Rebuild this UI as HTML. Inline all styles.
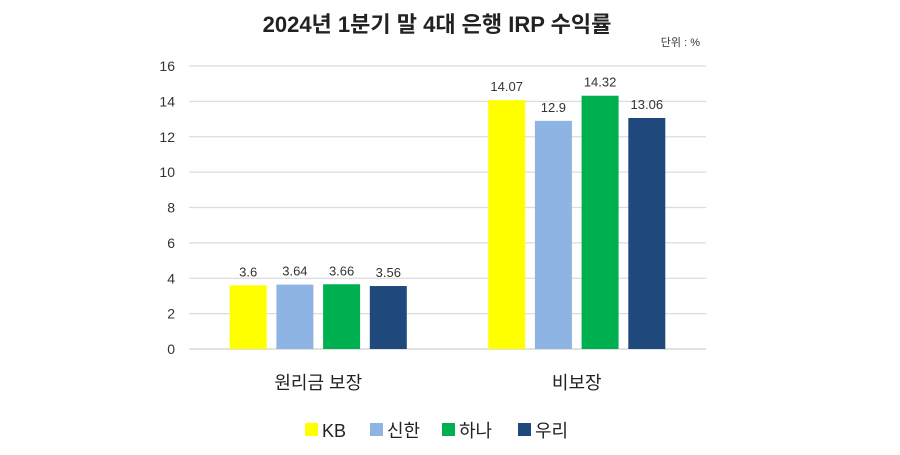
<!DOCTYPE html>
<html><head><meta charset="utf-8">
<style>
html,body{margin:0;padding:0;background:#fff;}
body{width:900px;height:450px;overflow:hidden;font-family:"Liberation Sans","Noto Sans CJK KR",sans-serif;}
</style></head>
<body>
<svg id="chart" width="900" height="450" xmlns="http://www.w3.org/2000/svg" font-family="Liberation Sans, Noto Sans CJK KR, sans-serif">
<text x="437" y="32" text-anchor="middle" font-size="22" font-weight="bold" fill="#222">2024년 1분기 말 4대 은행 IRP 수익률</text>
<text x="700" y="46" text-anchor="end" font-size="11" fill="#333">단위 : %</text>
</svg>
<script>
const categories = ["원리금 보장", "비보장"];
const seriesNames = ["KB", "신한", "하나", "우리"];
const kbValues = [3.6, 14.07];
const shinhanValues = [3.64, 12.9];
const hanaValues = [3.66, 14.32];
const wooriValues = [3.56, 13.06];
const valueLabels = [["3.6","14.07"],["3.64","12.9"],["3.66","14.32"],["3.56","13.06"]];
const yTicks = [0,2,4,6,8,10,12,14,16];

const colors = ["#FFFF00","#8DB4E2","#00B050","#1F497D"];
const series = [kbValues, shinhanValues, hanaValues, wooriValues];
const svg = document.getElementById('chart');
const NS = "http://www.w3.org/2000/svg";
const plotL = 189, plotR = 706, y0 = 349, yTop = 66, yMax = 16;
const yScale = v => y0 - (v / yMax) * (y0 - yTop);
const groupW = (plotR - plotL) / categories.length;
const barW = 37, barGap = 9.7;
const xBar = (ci, si) => {
  const center = plotL + groupW * (ci + 0.5);
  const total = series.length * barW + (series.length - 1) * barGap;
  return center - total / 2 + si * (barW + barGap);
};
function mk(tag, attrs){const e=document.createElementNS(NS,tag);for(const k in attrs)e.setAttribute(k,attrs[k]);svg.appendChild(e);return e;}

yTicks.forEach(t => {
  const y = yScale(t);
  const g = mk('line',{x1:plotL,x2:plotR,y1:y,y2:y,stroke:t===0?'#d0d0d0':'#dcdcdc','stroke-width':1.3});
  
  
  const l = mk('text',{x:175,y:y+5,'text-anchor':'end','font-size':14,fill:'#333'});
  l.textContent = t;
  
  
});

categories.forEach((c, ci) => {
  series.forEach((s, si) => {
    const x = xBar(ci, si), y = yScale(s[ci]);
    const r = mk('rect',{x:x,y:y,width:barW,height:y0-y,fill:colors[si]});
    
    
    const t = mk('text',{x:x+barW/2,y:y-9,'text-anchor':'middle','font-size':13,fill:'#333'});
    t.textContent = valueLabels[si][ci];
    
    
  });
  const cl = mk('text',{x:plotL+groupW*(ci+0.5),y:389,'text-anchor':'middle','font-size':18,fill:'#222'});
  cl.textContent = c;
  
  
});

const legendX = [305, 370, 442, 518];
seriesNames.forEach((n, si) => {
  const sw = mk('rect',{x:legendX[si],y:423,width:13,height:13,fill:colors[si]});
  
  
  const t = mk('text',{x:legendX[si]+17,y:437,'font-size':18,fill:'#222'});
  t.textContent = n;
  
  
});
</script>
</body></html>
